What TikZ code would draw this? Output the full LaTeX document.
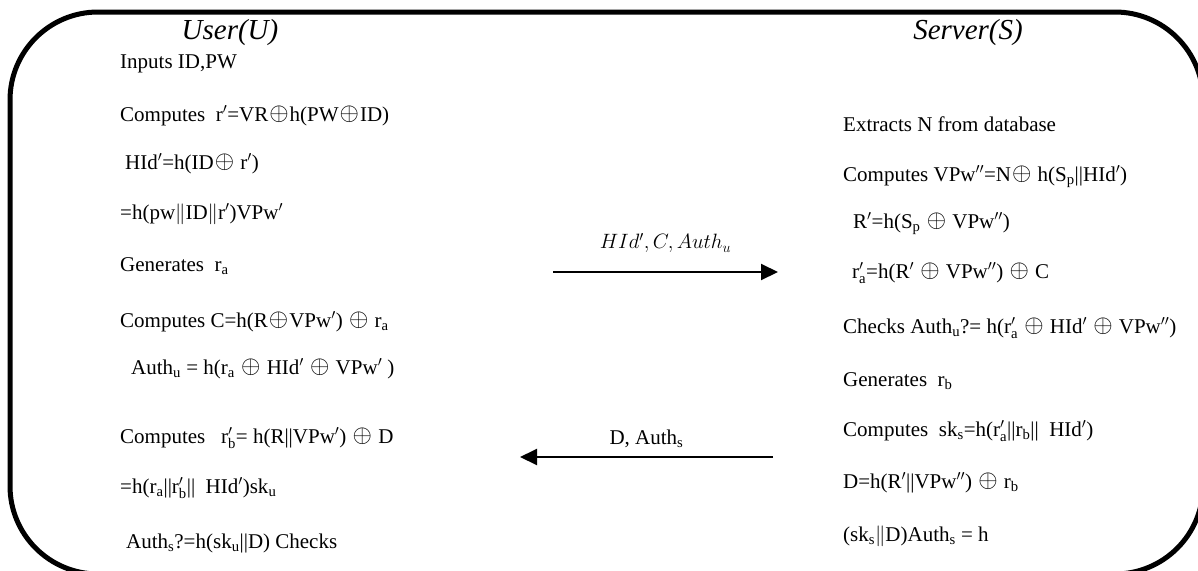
\documentclass[tikz,border=0pt]{standalone}
\usepackage{fontspec}
\setmainfont{Liberation Serif}
\usetikzlibrary{arrows.meta}
\newcommand{\xorop}{\kern1pt\raisebox{0.8pt}{\scalebox{1.2}{$\oplus$}}\kern1pt}
\tikzstyle{frame} = [line width=5pt, rounded corners=88pt]
\tikzstyle{party} = [inner sep=0pt, font=\fontsize{29}{34}\selectfont\itshape]
\tikzstyle{msgline} = [anchor=west, inner sep=0pt, text height=15pt, text depth=2pt, font=\fontsize{21}{25}\selectfont]
\tikzstyle{msglabel} = [inner sep=0pt, font=\fontsize{21}{25}\selectfont]
\tikzstyle{arrow} = [line width=2pt, -{Triangle[length=17pt,width=16pt]}]

\begin{document}
\begin{tikzpicture}[x=1pt, y=-1pt]
		\useasboundingbox (0,0) rectangle (1198,570);
		\clip (0,0) rectangle (1198,570);
		\draw [frame] (10,12) rectangle (1203,574);
	
		% User side
		\node (user) [party] at (230,33) {User(U)};
		\node (u1) [msgline] at (120,62) {Inputs ID,PW};
		\node (u2) [msgline] at (120,115) {Computes\ \ r$'$=VR\xorop h(PW\xorop ID)};
		\node (u3) [msgline] at (125,163) {HId$'$=h(ID\xorop\ r$'$)};
		\node (u4) [msgline] at (120,213) {=h(pw$\|$ID$\|$r$'$)VPw$'$};
		\node (u5) [msgline] at (120,265) {Generates\ \ r\textsubscript{a}};
		\node (u6) [msgline] at (120,321) {Computes C=h(R\xorop VPw$'$) \xorop\ r\textsubscript{a}};
		\node (u7) [msgline] at (131,368) {Auth\textsubscript{u} = h(r\textsubscript{a} \xorop\ HId$'$ \xorop\ VPw$'$ )};
		\node (u8) [msgline] at (120,437) {Computes\ \ \ r$'_{\mathrm{b}}$= h(R||VPw$'$) \xorop\ D};
		\node (u9) [msgline] at (120,487) {=h(r\textsubscript{a}||r$'_{\mathrm{b}}$||\ \ HId$'$)sk\textsubscript{u}};
		\node (u10) [msgline] at (126,542) {Auth\textsubscript{s}?=h(sk\textsubscript{u}||D) Checks};
	
		% Server side
		\node (server) [party] at (968,33) {Server(S)};
		\node (s1) [msgline] at (843,125) {Extracts N from database};
		\node (s2) [msgline] at (843,175) {Computes VPw$''$=N\xorop\ h(S\textsubscript{p}||HId$'$)};
		\node (s3) [msgline] at (853,222) {R$'$=h(S\textsubscript{p} \xorop\ VPw$''$)};
		\node (s4) [msgline] at (852,272) {r$'_{\mathrm{a}}$=h(R$'$ \xorop\ VPw$''$) \xorop\ C};
		\node (s5) [msgline] at (843,327) {Checks Auth\textsubscript{u}?= h(r$'_{\mathrm{a}}$ \xorop\ HId$'$ \xorop\ VPw$''$)};
		\node (s6) [msgline] at (843,380) {Generates\ \ r\textsubscript{b}};
		\node (s7) [msgline] at (843,430) {Computes\ \ sk\textsubscript{s}=h(r$'_{\mathrm{a}}$||r\textsubscript{b}||\ \ HId$'$)};
		\node (s8) [msgline] at (843,482) {D=h(R$'$||VPw$''$) \xorop\ r\textsubscript{b}};
		\node (s9) [msgline] at (843,535) {(sk\textsubscript{s}$\|$D)Auth\textsubscript{s} = h};
	
		% Messages
		\coordinate (req1) at (553,272);
		\coordinate (req2) at (778,272);
		\coordinate (rep1) at (773,457);
		\coordinate (rep2) at (520,457);
		\draw [arrow] (req1) -- node[msglabel, above=18pt] {$HId', C, Auth_u$} (req2);
		\draw [arrow] (rep1) -- node[msglabel, above=8pt] {D, Auth\textsubscript{s}} (rep2);
	\end{tikzpicture}
\end{document}
